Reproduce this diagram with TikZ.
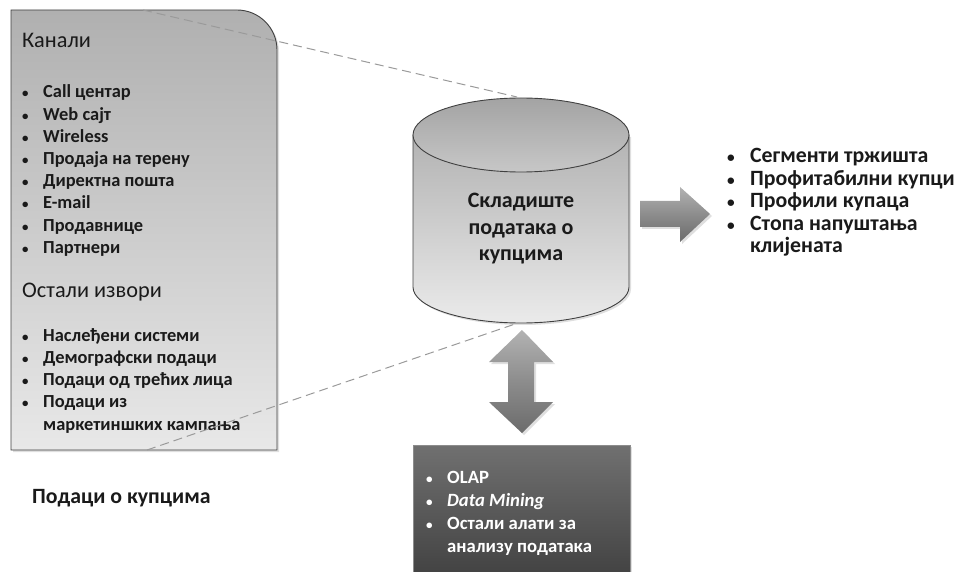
\documentclass[tikz,border=0pt]{standalone}
\usepackage{fontspec}
\setmainfont{Carlito}
\usetikzlibrary{shadows}
\definecolor{ink}{HTML}{1A1A1A}
\definecolor{edge}{HTML}{404040}
\definecolor{dash}{HTML}{9A9A9A}
\newcommand{\blt}[1]{\makebox[#1][l]{\scalebox{0.7}{\textbullet}}}
\begin{document}
\begin{tikzpicture}[x=1pt,y=-1pt,
  heading/.style={anchor=base west,inner sep=0pt,text=ink,font=\fontsize{22.3}{26}\selectfont},
  item/.style={anchor=base west,inner sep=0pt,text=ink,font=\bfseries\fontsize{18.4}{22}\selectfont},
  outitem/.style={anchor=base west,inner sep=0pt,text=ink,font=\bfseries\fontsize{21.8}{24}\selectfont},
  dbline/.style={anchor=base,inner sep=0pt,text=ink,font=\bfseries\fontsize{22}{26}\selectfont},
  toolitem/.style={anchor=base west,inner sep=0pt,text=white,font=\bfseries\fontsize{18.7}{22}\selectfont},
  softshadow/.style={drop shadow={opacity=0.25,shadow xshift=2pt,shadow yshift=-2pt}},
  zoomline/.style={draw=dash,line width=1pt,dash pattern=on 9pt off 5pt},
  graybar/.style={draw=none,top color=black!30,bottom color=black!58,middle color=black!45}]
\useasboundingbox (0,0) rectangle (956,572);
\clip (0,0) rectangle (956,572);

% source panel with one rounded corner
\shade[top color=black!31,bottom color=black!9,draw=edge,line width=0.9pt,softshadow]
  (11,450) -- (11,10) [rounded corners=40pt] -- (277,10) [sharp corners] -- (277,450) -- cycle;
\coordinate (srcTop) at (143,10);
\coordinate (srcBot) at (147,450);

\node[heading] (hChan) at (22,48) {Канали};
\foreach \t [count=\i from 0] in {Call центар,Web сајт,Wireless,Продаја на терену,Директна пошта,E-mail,Продавнице,Партнери}
  \node[item] (chan\i) at (22,98+22.2*\i) {\blt{21pt}\t};

\node[heading] (hOther) at (22,298) {Остали извори};
\foreach \t [count=\i from 0] in {Наслеђени системи,Демографски подаци,Подаци од трећих лица,Подаци из}
  \node[item] (oth\i) at (22,341+22.3*\i) {\blt{21pt}\t};
\node[item] (oth4) at (43,430) {маркетиншких кампања};

\node[anchor=base west,inner sep=0pt,text=ink,font=\bfseries\fontsize{21.8}{26}\selectfont] (caption) at (32,503) {Подаци о купцима};

% warehouse cylinder
\shade[top color=black!30,bottom color=black!8,draw=edge,line width=0.9pt,softshadow]
  (413,135) -- (413,287) arc[start angle=180,end angle=0,x radius=108,y radius=36] -- (629,135) -- cycle;
\shade[top color=black!36,bottom color=black!22,draw=edge,line width=0.9pt]
  (521,135) ellipse[x radius=108,y radius=37];
\coordinate (dbTop) at (517,97);
\coordinate (dbBot) at (518,323);
\node[dbline] (db0) at (521,208) {Складиште};
\node[dbline] (db1) at (521,234.5) {података о};
\node[dbline] (db2) at (521,261) {купцима};

% zoom lines from the panel to the cylinder
\draw[zoomline] (srcTop) -- (dbTop);
\draw[zoomline] (srcBot) -- (dbBot);

% output arrow
\path[graybar,softshadow] (640,201) -- (680,201) -- (680,187) -- (710,214) -- (680,242) -- (680,227) -- (640,227) -- cycle;
\foreach \t [count=\i from 0] in {Сегменти тржишта,Профитабилни купци,Профили купаца,Стопа напуштања}
  \node[outitem] (out\i) at (727,162.5+22.6*\i) {\blt{23pt}\t};
\node[outitem] (out4) at (750,253) {клијената};

% two-way arrow between warehouse and tools
\path[graybar,softshadow] (522,330) -- (553,362) -- (534,362) -- (534,402) -- (553,402) -- (522,433)
  -- (489,402) -- (508,402) -- (508,362) -- (489,362) -- cycle;

% analysis tools box
\shade[top color=black!56,bottom color=black!76,draw=black!45,line width=0.8pt,softshadow]
  (413,445) rectangle (630,590);
\node[toolitem] (tool0) at (426,483) {\blt{21pt}OLAP};
\node[toolitem] (tool1) at (426,506) {\blt{21pt}\textit{Data Mining}};
\node[toolitem] (tool2) at (426,529) {\blt{21pt}Остали алати за};
\node[toolitem] (tool3) at (447,552) {анализу података};
\end{tikzpicture}
\end{document}
